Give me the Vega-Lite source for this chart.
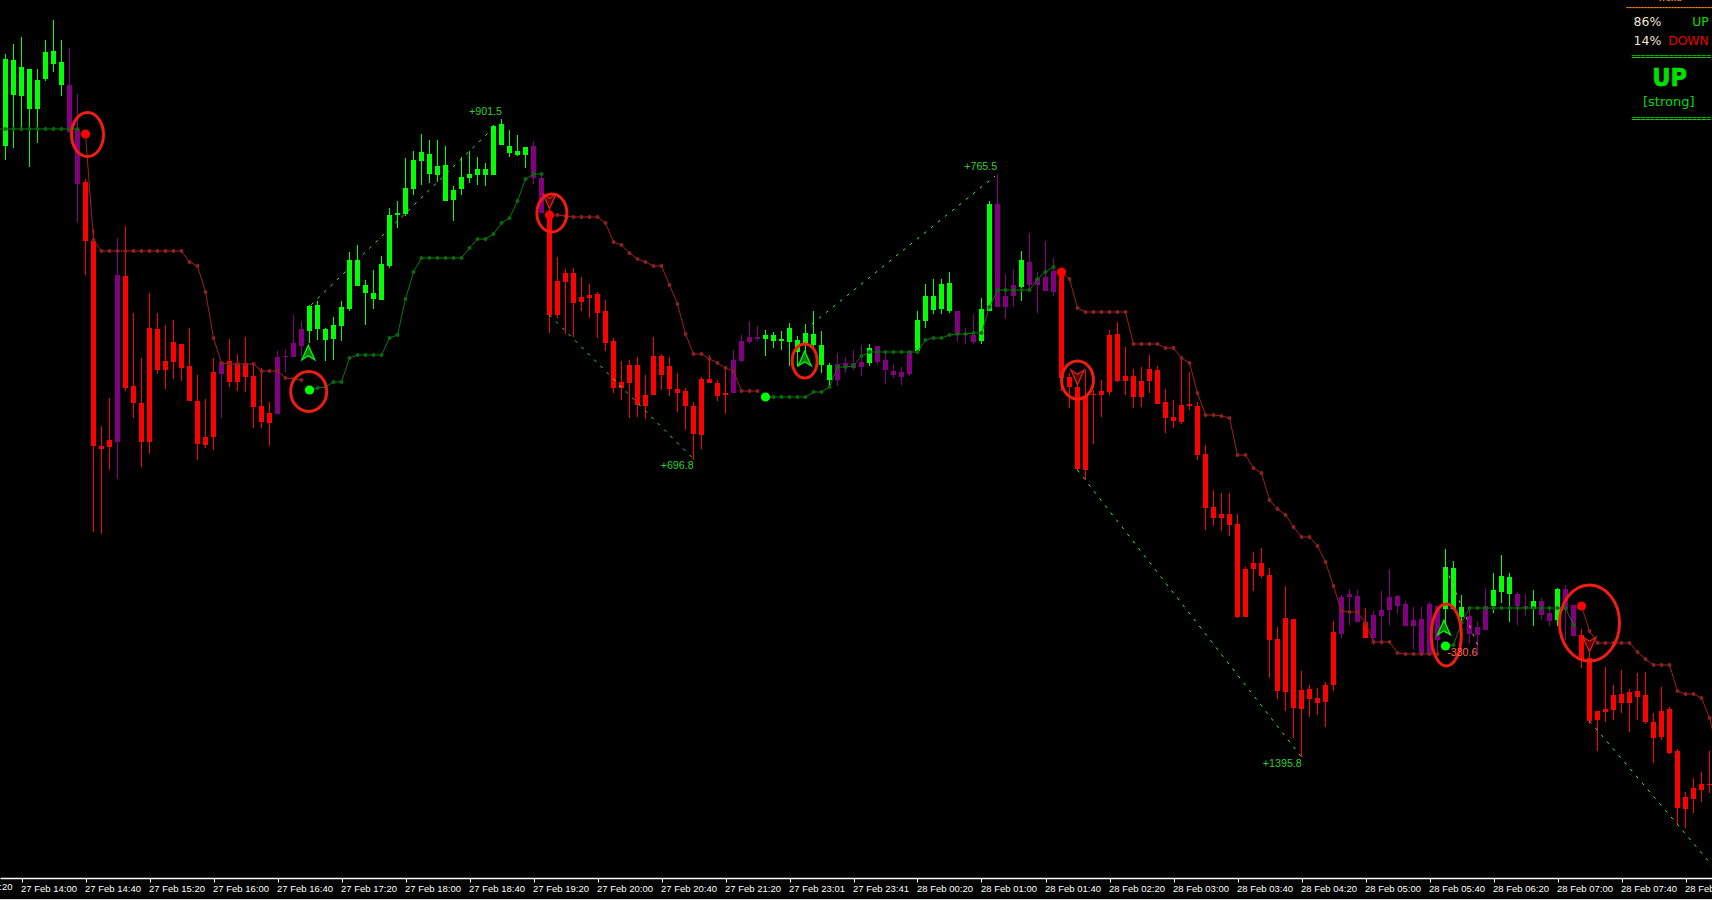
{"$schema":"https://vega.github.io/schema/vega-lite/v6.json","autosize":{"type":"none"},"padding":0,"width":1712,"height":900,"background":"#000000","config":{"view":{"stroke":null},"axis":{"grid":false}},
"datasets":{
"candles":[
{"i":0,"h":946,"l":840,"o":854,"c":941,"s":"up"},{"i":1,"h":956,"l":852,"o":905,"c":940,"s":"up"},{"i":2,"h":963,"l":869,"o":904,"c":933,"s":"up"},{"i":3,"h":931,"l":833,"o":891,"c":931,"s":"up"},{"i":4,"h":931,"l":857,"o":891,"c":920,"s":"up"},{"i":5,"h":960,"l":919,"o":921,"c":948,"s":"up"},{"i":6,"h":980,"l":928,"o":936,"c":949,"s":"up"},{"i":7,"h":960,"l":904,"o":915,"c":938,"s":"up"},{"i":8,"h":952,"l":867,"o":915,"c":868,"s":"flat"},{"i":9,"h":906,"l":777,"o":871,"c":816,"s":"flat"},
{"i":10,"h":821,"l":725,"o":818,"c":759,"s":"down"},{"i":11,"h":771,"l":468,"o":759,"c":554,"s":"down"},{"i":12,"h":574,"l":466,"o":554,"c":551,"s":"down"},{"i":13,"h":602,"l":530,"o":560,"c":553,"s":"down"},{"i":14,"h":762,"l":521,"o":725,"c":558,"s":"flat"},{"i":15,"h":774,"l":609,"o":724,"c":612,"s":"down"},{"i":16,"h":687,"l":582,"o":614,"c":597,"s":"down"},{"i":17,"h":642,"l":533,"o":597,"c":558,"s":"down"},{"i":18,"h":707,"l":546,"o":672,"c":558,"s":"down"},{"i":19,"h":687,"l":626,"o":671,"c":630,"s":"down"},
{"i":20,"h":675,"l":611,"o":639,"c":630,"s":"down"},{"i":21,"h":680,"l":621,"o":658,"c":638,"s":"down"},{"i":22,"h":656,"l":619,"o":656,"c":632,"s":"down"},{"i":23,"h":672,"l":599,"o":634,"c":599,"s":"down"},{"i":24,"h":625,"l":540,"o":599,"c":556,"s":"down"},{"i":25,"h":601,"l":552,"o":563,"c":555,"s":"down"},{"i":26,"h":642,"l":550,"o":628,"c":563,"s":"down"},{"i":27,"h":639,"l":582,"o":638,"c":626,"s":"flat"},{"i":28,"h":661,"l":613,"o":639,"c":618,"s":"down"},{"i":29,"h":646,"l":609,"o":637,"c":618,"s":"down"},
{"i":30,"h":663,"l":608,"o":637,"c":623,"s":"down"},{"i":31,"h":634,"l":572,"o":624,"c":593,"s":"down"},{"i":32,"h":632,"l":572,"o":594,"c":578,"s":"down"},{"i":33,"h":598,"l":554,"o":587,"c":577,"s":"down"},{"i":34,"h":649,"l":586,"o":643,"c":586,"s":"flat"},{"i":35,"h":651,"l":628,"o":644,"c":643,"s":"flat"},{"i":36,"h":685,"l":643,"o":657,"c":643,"s":"flat"},{"i":37,"h":679,"l":643,"o":671,"c":654,"s":"flat"},{"i":38,"h":695,"l":657,"o":669,"c":694,"s":"up"},{"i":39,"h":699,"l":660,"o":671,"c":695,"s":"up"},
{"i":40,"h":672,"l":639,"o":660,"c":671,"s":"up"},{"i":41,"h":683,"l":640,"o":661,"c":675,"s":"up"},{"i":42,"h":699,"l":659,"o":674,"c":693,"s":"up"},{"i":43,"h":748,"l":689,"o":691,"c":740,"s":"up"},{"i":44,"h":755,"l":714,"o":714,"c":740,"s":"up"},{"i":45,"h":720,"l":675,"o":707,"c":715,"s":"up"},{"i":46,"h":730,"l":691,"o":701,"c":707,"s":"up"},{"i":47,"h":744,"l":700,"o":700,"c":736,"s":"up"},{"i":48,"h":792,"l":732,"o":734,"c":785,"s":"up"},{"i":49,"h":799,"l":772,"o":785,"c":787,"s":"up"},
{"i":50,"h":842,"l":784,"o":786,"c":812,"s":"up"},{"i":51,"h":849,"l":805,"o":811,"c":840,"s":"up"},{"i":52,"h":866,"l":815,"o":839,"c":848,"s":"up"},{"i":53,"h":860,"l":817,"o":826,"c":846,"s":"up"},{"i":54,"h":860,"l":818,"o":825,"c":834,"s":"up"},{"i":55,"h":854,"l":799,"o":799,"c":835,"s":"up"},{"i":56,"h":814,"l":779,"o":800,"c":810,"s":"up"},{"i":57,"h":843,"l":805,"o":811,"c":823,"s":"up"},{"i":58,"h":849,"l":817,"o":822,"c":826,"s":"up"},{"i":59,"h":843,"l":815,"o":825,"c":831,"s":"up"},
{"i":60,"h":837,"l":814,"o":825,"c":831,"s":"up"},{"i":61,"h":875,"l":825,"o":825,"c":874,"s":"up"},{"i":62,"h":881,"l":855,"o":855,"c":876,"s":"up"},{"i":63,"h":870,"l":843,"o":847,"c":854,"s":"up"},{"i":64,"h":865,"l":844,"o":845,"c":849,"s":"up"},{"i":65,"h":853,"l":832,"o":845,"c":853,"s":"up"},{"i":66,"h":859,"l":816,"o":854,"c":822,"s":"flat"},{"i":67,"h":827,"l":787,"o":822,"c":787,"s":"flat"},{"i":68,"h":793,"l":667,"o":785,"c":685,"s":"down"},{"i":69,"h":743,"l":682,"o":719,"c":685,"s":"down"},
{"i":70,"h":731,"l":666,"o":727,"c":718,"s":"down"},{"i":71,"h":732,"l":663,"o":727,"c":697,"s":"down"},{"i":72,"h":723,"l":689,"o":703,"c":698,"s":"down"},{"i":73,"h":716,"l":682,"o":705,"c":702,"s":"down"},{"i":74,"h":708,"l":662,"o":706,"c":687,"s":"down"},{"i":75,"h":700,"l":649,"o":689,"c":657,"s":"down"},{"i":76,"h":662,"l":607,"o":659,"c":612,"s":"down"},{"i":77,"h":639,"l":600,"o":618,"c":612,"s":"down"},{"i":78,"h":640,"l":582,"o":635,"c":617,"s":"down"},{"i":79,"h":643,"l":583,"o":635,"c":595,"s":"down"},
{"i":80,"h":625,"l":581,"o":605,"c":594,"s":"down"},{"i":81,"h":663,"l":605,"o":644,"c":605,"s":"down"},{"i":82,"h":646,"l":610,"o":644,"c":625,"s":"down"},{"i":83,"h":643,"l":604,"o":634,"c":611,"s":"down"},{"i":84,"h":627,"l":588,"o":611,"c":607,"s":"down"},{"i":85,"h":612,"l":570,"o":609,"c":594,"s":"down"},{"i":86,"h":598,"l":540,"o":594,"c":566,"s":"down"},{"i":87,"h":623,"l":551,"o":621,"c":565,"s":"down"},{"i":88,"h":645,"l":617,"o":621,"c":617,"s":"down"},{"i":89,"h":620,"l":599,"o":617,"c":604,"s":"down"},
{"i":90,"h":634,"l":586,"o":607,"c":605,"s":"down"},{"i":91,"h":650,"l":607,"o":640,"c":607,"s":"flat"},{"i":92,"h":665,"l":638,"o":659,"c":639,"s":"flat"},{"i":93,"h":679,"l":656,"o":663,"c":658,"s":"flat"},{"i":94,"h":674,"l":659,"o":663,"c":661,"s":"flat"},{"i":95,"h":670,"l":644,"o":661,"c":665,"s":"up"},{"i":96,"h":668,"l":652,"o":659,"c":665,"s":"up"},{"i":97,"h":669,"l":650,"o":659,"c":661,"s":"up"},{"i":98,"h":677,"l":634,"o":658,"c":672,"s":"up"},{"i":99,"h":664,"l":634,"o":648,"c":660,"s":"up"},
{"i":100,"h":676,"l":645,"o":655,"c":667,"s":"up"},{"i":101,"h":689,"l":650,"o":655,"c":666,"s":"up"},{"i":102,"h":669,"l":627,"o":635,"c":655,"s":"up"},{"i":103,"h":637,"l":612,"o":620,"c":635,"s":"up"},{"i":104,"h":647,"l":614,"o":636,"c":620,"s":"flat"},{"i":105,"h":643,"l":627,"o":637,"c":634,"s":"flat"},{"i":106,"h":650,"l":630,"o":637,"c":632,"s":"flat"},{"i":107,"h":655,"l":624,"o":638,"c":633,"s":"flat"},{"i":108,"h":656,"l":634,"o":637,"c":652,"s":"up"},{"i":109,"h":654,"l":635,"o":654,"c":638,"s":"flat"},
{"i":110,"h":646,"l":616,"o":640,"c":630,"s":"flat"},{"i":111,"h":636,"l":622,"o":629,"c":625,"s":"flat"},{"i":112,"h":633,"l":615,"o":628,"c":623,"s":"flat"},{"i":113,"h":649,"l":624,"o":649,"c":626,"s":"flat"},{"i":114,"h":689,"l":647,"o":649,"c":680,"s":"up"},{"i":115,"h":716,"l":672,"o":679,"c":704,"s":"up"},{"i":116,"h":721,"l":686,"o":690,"c":704,"s":"up"},{"i":117,"h":721,"l":686,"o":691,"c":716,"s":"up"},{"i":118,"h":728,"l":687,"o":689,"c":717,"s":"up"},{"i":119,"h":689,"l":659,"o":689,"c":666,"s":"flat"},
{"i":120,"h":672,"l":656,"o":667,"c":665,"s":"flat"},{"i":121,"h":685,"l":656,"o":665,"c":658,"s":"flat"},{"i":122,"h":702,"l":656,"o":659,"c":691,"s":"up"},{"i":123,"h":799,"l":689,"o":689,"c":796,"s":"up"},{"i":124,"h":826,"l":693,"o":796,"c":693,"s":"flat"},{"i":125,"h":726,"l":681,"o":704,"c":693,"s":"flat"},{"i":126,"h":731,"l":693,"o":715,"c":704,"s":"flat"},{"i":127,"h":749,"l":699,"o":713,"c":740,"s":"up"},{"i":128,"h":767,"l":709,"o":738,"c":715,"s":"flat"},{"i":129,"h":728,"l":687,"o":722,"c":715,"s":"flat"},
{"i":130,"h":759,"l":709,"o":723,"c":709,"s":"flat"},{"i":131,"h":742,"l":704,"o":729,"c":708,"s":"flat"},{"i":132,"h":732,"l":609,"o":728,"c":622,"s":"down"},{"i":133,"h":627,"l":592,"o":623,"c":613,"s":"down"},{"i":134,"h":615,"l":529,"o":613,"c":531,"s":"down"},{"i":135,"h":630,"l":520,"o":604,"c":530,"s":"down"},{"i":136,"h":610,"l":556,"o":606,"c":605,"s":"down"},{"i":137,"h":620,"l":583,"o":609,"c":605,"s":"down"},{"i":138,"h":670,"l":605,"o":665,"c":608,"s":"down"},{"i":139,"h":678,"l":618,"o":666,"c":619,"s":"down"},
{"i":140,"h":653,"l":605,"o":624,"c":619,"s":"down"},{"i":141,"h":631,"l":592,"o":624,"c":603,"s":"down"},{"i":142,"h":633,"l":593,"o":619,"c":603,"s":"down"},{"i":143,"h":645,"l":607,"o":631,"c":619,"s":"down"},{"i":144,"h":634,"l":596,"o":630,"c":596,"s":"down"},{"i":145,"h":611,"l":567,"o":598,"c":582,"s":"down"},{"i":146,"h":600,"l":572,"o":583,"c":579,"s":"down"},{"i":147,"h":642,"l":576,"o":595,"c":578,"s":"down"},{"i":148,"h":628,"l":590,"o":596,"c":594,"s":"down"},{"i":149,"h":598,"l":540,"o":594,"c":545,"s":"down"},
{"i":150,"h":555,"l":470,"o":546,"c":492,"s":"down"},{"i":151,"h":510,"l":474,"o":493,"c":482,"s":"down"},{"i":152,"h":507,"l":469,"o":486,"c":482,"s":"down"},{"i":153,"h":507,"l":464,"o":486,"c":475,"s":"down"},{"i":154,"h":486,"l":382,"o":476,"c":383,"s":"down"},{"i":155,"h":433,"l":383,"o":431,"c":383,"s":"down"},{"i":156,"h":448,"l":409,"o":437,"c":431,"s":"down"},{"i":157,"h":452,"l":422,"o":437,"c":424,"s":"down"},{"i":158,"h":432,"l":322,"o":425,"c":360,"s":"down"},{"i":159,"h":373,"l":301,"o":361,"c":309,"s":"down"},
{"i":160,"h":414,"l":289,"o":382,"c":308,"s":"down"},{"i":161,"h":381,"l":262,"o":381,"c":292,"s":"down"},{"i":162,"h":329,"l":243,"o":310,"c":291,"s":"down"},{"i":163,"h":315,"l":283,"o":311,"c":301,"s":"down"},{"i":164,"h":312,"l":285,"o":302,"c":297,"s":"down"},{"i":165,"h":318,"l":273,"o":315,"c":298,"s":"down"},{"i":166,"h":379,"l":309,"o":368,"c":315,"s":"down"},{"i":167,"h":405,"l":362,"o":403,"c":366,"s":"flat"},{"i":168,"h":411,"l":375,"o":406,"c":403,"s":"flat"},{"i":169,"h":410,"l":378,"o":404,"c":378,"s":"flat"},
{"i":170,"h":392,"l":362,"o":378,"c":362,"s":"down"},{"i":171,"h":389,"l":355,"o":385,"c":362,"s":"flat"},{"i":172,"h":409,"l":355,"o":390,"c":384,"s":"flat"},{"i":173,"h":431,"l":375,"o":403,"c":390,"s":"flat"},{"i":174,"h":405,"l":386,"o":404,"c":394,"s":"flat"},{"i":175,"h":399,"l":374,"o":396,"c":374,"s":"flat"},{"i":176,"h":393,"l":350,"o":380,"c":374,"s":"flat"},{"i":177,"h":393,"l":344,"o":381,"c":346,"s":"flat"},{"i":178,"h":398,"l":344,"o":396,"c":346,"s":"flat"},{"i":179,"h":394,"l":345,"o":394,"c":360,"s":"flat"},
{"i":180,"h":451,"l":367,"o":391,"c":433,"s":"up"},{"i":181,"h":439,"l":390,"o":391,"c":432,"s":"up"},{"i":182,"h":405,"l":370,"o":383,"c":393,"s":"up"},{"i":183,"h":393,"l":356,"o":384,"c":366,"s":"flat"},{"i":184,"h":379,"l":345,"o":373,"c":365,"s":"flat"},{"i":185,"h":412,"l":370,"o":394,"c":370,"s":"flat"},{"i":186,"h":427,"l":387,"o":394,"c":410,"s":"up"},{"i":187,"h":445,"l":397,"o":408,"c":424,"s":"up"},{"i":188,"h":427,"l":378,"o":406,"c":423,"s":"up"},{"i":189,"h":408,"l":375,"o":406,"c":394,"s":"flat"},
{"i":190,"h":406,"l":384,"o":394,"c":392,"s":"flat"},{"i":191,"h":410,"l":374,"o":391,"c":399,"s":"up"},{"i":192,"h":402,"l":380,"o":399,"c":385,"s":"flat"},{"i":193,"h":394,"l":374,"o":387,"c":379,"s":"flat"},{"i":194,"h":412,"l":374,"o":380,"c":411,"s":"up"},{"i":195,"h":415,"l":360,"o":411,"c":390,"s":"flat"},{"i":196,"h":395,"l":364,"o":395,"c":364,"s":"flat"},{"i":197,"h":371,"l":332,"o":365,"c":340,"s":"down"},{"i":198,"h":347,"l":276,"o":342,"c":279,"s":"down"},{"i":199,"h":289,"l":249,"o":289,"c":280,"s":"down"},
{"i":200,"h":333,"l":278,"o":291,"c":288,"s":"down"},{"i":201,"h":315,"l":280,"o":305,"c":290,"s":"down"},{"i":202,"h":330,"l":287,"o":306,"c":297,"s":"down"},{"i":203,"h":311,"l":268,"o":308,"c":297,"s":"down"},{"i":204,"h":327,"l":280,"o":309,"c":303,"s":"down"},{"i":205,"h":328,"l":276,"o":305,"c":278,"s":"down"},{"i":206,"h":287,"l":237,"o":278,"c":262,"s":"down"},{"i":207,"h":313,"l":260,"o":289,"c":263,"s":"down"},{"i":208,"h":293,"l":246,"o":291,"c":247,"s":"down"},{"i":209,"h":251,"l":176,"o":249,"c":192,"s":"down"},
{"i":210,"h":208,"l":172,"o":203,"c":191,"s":"down"},{"i":211,"h":222,"l":187,"o":212,"c":201,"s":"down"},{"i":212,"h":228,"l":198,"o":216,"c":210,"s":"down"},{"i":213,"h":249,"l":207,"o":216,"c":215,"s":"down"}],
"stops":[
{"i":-1,"v":871,"g":"a","d":"long"},{"i":0,"v":871,"g":"a","d":"long"},{"i":1,"v":871,"g":"a","d":"long"},{"i":2,"v":871,"g":"a","d":"long"},{"i":3,"v":871,"g":"a","d":"long"},{"i":4,"v":871,"g":"a","d":"long"},{"i":5,"v":871,"g":"a","d":"long"},{"i":6,"v":871,"g":"a","d":"long"},{"i":7,"v":871,"g":"a","d":"long"},{"i":8,"v":871,"g":"a","d":"long"},{"i":9,"v":871,"g":"a","d":"long"},
{"i":10,"v":866,"g":"b","d":"short"},{"i":11,"v":760,"g":"b","d":"short"},{"i":12,"v":749,"g":"b","d":"short"},{"i":13,"v":749,"g":"b","d":"short"},{"i":14,"v":749,"g":"b","d":"short"},{"i":15,"v":749,"g":"b","d":"short"},{"i":16,"v":749,"g":"b","d":"short"},{"i":17,"v":749,"g":"b","d":"short"},{"i":18,"v":749,"g":"b","d":"short"},{"i":19,"v":749,"g":"b","d":"short"},{"i":20,"v":749,"g":"b","d":"short"},{"i":21,"v":749,"g":"b","d":"short"},{"i":22,"v":749,"g":"b","d":"short"},{"i":23,"v":738,"g":"b","d":"short"},{"i":24,"v":734,"g":"b","d":"short"},{"i":25,"v":708,"g":"b","d":"short"},{"i":26,"v":662,"g":"b","d":"short"},{"i":27,"v":637,"g":"b","d":"short"},{"i":28,"v":636,"g":"b","d":"short"},{"i":29,"v":636,"g":"b","d":"short"},{"i":30,"v":636,"g":"b","d":"short"},{"i":31,"v":636,"g":"b","d":"short"},{"i":32,"v":629,"g":"b","d":"short"},{"i":33,"v":629,"g":"b","d":"short"},{"i":34,"v":629,"g":"b","d":"short"},{"i":35,"v":622,"g":"b","d":"short"},{"i":36,"v":621,"g":"b","d":"short"},{"i":37,"v":620,"g":"b","d":"short"},
{"i":38,"v":610,"g":"c","d":"long"},{"i":39,"v":612,"g":"c","d":"long"},{"i":40,"v":613,"g":"c","d":"long"},{"i":41,"v":618,"g":"c","d":"long"},{"i":42,"v":618,"g":"c","d":"long"},{"i":43,"v":642,"g":"c","d":"long"},{"i":44,"v":645,"g":"c","d":"long"},{"i":45,"v":645,"g":"c","d":"long"},{"i":46,"v":645,"g":"c","d":"long"},{"i":47,"v":645,"g":"c","d":"long"},{"i":48,"v":662,"g":"c","d":"long"},{"i":49,"v":665,"g":"c","d":"long"},{"i":50,"v":701,"g":"c","d":"long"},{"i":51,"v":728,"g":"c","d":"long"},{"i":52,"v":742,"g":"c","d":"long"},{"i":53,"v":742,"g":"c","d":"long"},{"i":54,"v":742,"g":"c","d":"long"},{"i":55,"v":742,"g":"c","d":"long"},{"i":56,"v":742,"g":"c","d":"long"},{"i":57,"v":742,"g":"c","d":"long"},{"i":58,"v":752,"g":"c","d":"long"},{"i":59,"v":761,"g":"c","d":"long"},{"i":60,"v":761,"g":"c","d":"long"},{"i":61,"v":766,"g":"c","d":"long"},{"i":62,"v":777,"g":"c","d":"long"},{"i":63,"v":782,"g":"c","d":"long"},{"i":64,"v":799,"g":"c","d":"long"},{"i":65,"v":821,"g":"c","d":"long"},{"i":66,"v":826,"g":"c","d":"long"},{"i":67,"v":826,"g":"c","d":"long"},
{"i":68,"v":785,"g":"d","d":"short"},{"i":69,"v":785,"g":"d","d":"short"},{"i":70,"v":784,"g":"d","d":"short"},{"i":71,"v":783,"g":"d","d":"short"},{"i":72,"v":783,"g":"d","d":"short"},{"i":73,"v":783,"g":"d","d":"short"},{"i":74,"v":783,"g":"d","d":"short"},{"i":75,"v":777,"g":"d","d":"short"},{"i":76,"v":758,"g":"d","d":"short"},{"i":77,"v":755,"g":"d","d":"short"},{"i":78,"v":747,"g":"d","d":"short"},{"i":79,"v":741,"g":"d","d":"short"},{"i":80,"v":738,"g":"d","d":"short"},{"i":81,"v":734,"g":"d","d":"short"},{"i":82,"v":734,"g":"d","d":"short"},{"i":83,"v":715,"g":"d","d":"short"},{"i":84,"v":696,"g":"d","d":"short"},{"i":85,"v":666,"g":"d","d":"short"},{"i":86,"v":646,"g":"d","d":"short"},{"i":87,"v":646,"g":"d","d":"short"},{"i":88,"v":641,"g":"d","d":"short"},{"i":89,"v":637,"g":"d","d":"short"},{"i":90,"v":632,"g":"d","d":"short"},{"i":91,"v":629,"g":"d","d":"short"},{"i":92,"v":609,"g":"d","d":"short"},{"i":93,"v":609,"g":"d","d":"short"},{"i":94,"v":609,"g":"d","d":"short"},
{"i":95,"v":603,"g":"e","d":"long"},{"i":96,"v":603,"g":"e","d":"long"},{"i":97,"v":603,"g":"e","d":"long"},{"i":98,"v":603,"g":"e","d":"long"},{"i":99,"v":603,"g":"e","d":"long"},{"i":100,"v":603,"g":"e","d":"long"},{"i":101,"v":608,"g":"e","d":"long"},{"i":102,"v":608,"g":"e","d":"long"},{"i":103,"v":613,"g":"e","d":"long"},{"i":104,"v":633,"g":"e","d":"long"},{"i":105,"v":633,"g":"e","d":"long"},{"i":106,"v":634,"g":"e","d":"long"},{"i":107,"v":644,"g":"e","d":"long"},{"i":108,"v":648,"g":"e","d":"long"},{"i":109,"v":648,"g":"e","d":"long"},{"i":110,"v":648,"g":"e","d":"long"},{"i":111,"v":648,"g":"e","d":"long"},{"i":112,"v":648,"g":"e","d":"long"},{"i":113,"v":648,"g":"e","d":"long"},{"i":114,"v":648,"g":"e","d":"long"},{"i":115,"v":660,"g":"e","d":"long"},{"i":116,"v":662,"g":"e","d":"long"},{"i":117,"v":662,"g":"e","d":"long"},{"i":118,"v":665,"g":"e","d":"long"},{"i":119,"v":666,"g":"e","d":"long"},{"i":120,"v":666,"g":"e","d":"long"},{"i":121,"v":667,"g":"e","d":"long"},{"i":122,"v":667,"g":"e","d":"long"},{"i":123,"v":693,"g":"e","d":"long"},{"i":124,"v":710,"g":"e","d":"long"},{"i":125,"v":710,"g":"e","d":"long"},{"i":126,"v":710,"g":"e","d":"long"},{"i":127,"v":710,"g":"e","d":"long"},{"i":128,"v":710,"g":"e","d":"long"},{"i":129,"v":721,"g":"e","d":"long"},{"i":130,"v":728,"g":"e","d":"long"},{"i":131,"v":733,"g":"e","d":"long"},
{"i":132,"v":728,"g":"f","d":"short"},{"i":133,"v":721,"g":"f","d":"short"},{"i":134,"v":692,"g":"f","d":"short"},{"i":135,"v":688,"g":"f","d":"short"},{"i":136,"v":688,"g":"f","d":"short"},{"i":137,"v":688,"g":"f","d":"short"},{"i":138,"v":688,"g":"f","d":"short"},{"i":139,"v":688,"g":"f","d":"short"},{"i":140,"v":688,"g":"f","d":"short"},{"i":141,"v":656,"g":"f","d":"short"},{"i":142,"v":656,"g":"f","d":"short"},{"i":143,"v":656,"g":"f","d":"short"},{"i":144,"v":656,"g":"f","d":"short"},{"i":145,"v":652,"g":"f","d":"short"},{"i":146,"v":652,"g":"f","d":"short"},{"i":147,"v":642,"g":"f","d":"short"},{"i":148,"v":637,"g":"f","d":"short"},{"i":149,"v":607,"g":"f","d":"short"},{"i":150,"v":585,"g":"f","d":"short"},{"i":151,"v":585,"g":"f","d":"short"},{"i":152,"v":584,"g":"f","d":"short"},{"i":153,"v":582,"g":"f","d":"short"},{"i":154,"v":545,"g":"f","d":"short"},{"i":155,"v":545,"g":"f","d":"short"},{"i":156,"v":532,"g":"f","d":"short"},{"i":157,"v":527,"g":"f","d":"short"},{"i":158,"v":500,"g":"f","d":"short"},{"i":159,"v":491,"g":"f","d":"short"},{"i":160,"v":485,"g":"f","d":"short"},{"i":161,"v":473,"g":"f","d":"short"},{"i":162,"v":463,"g":"f","d":"short"},{"i":163,"v":463,"g":"f","d":"short"},{"i":164,"v":454,"g":"f","d":"short"},{"i":165,"v":438,"g":"f","d":"short"},{"i":166,"v":414,"g":"f","d":"short"},{"i":167,"v":389,"g":"f","d":"short"},{"i":168,"v":388,"g":"f","d":"short"},{"i":169,"v":388,"g":"f","d":"short"},{"i":170,"v":377,"g":"f","d":"short"},{"i":171,"v":358,"g":"f","d":"short"},{"i":172,"v":358,"g":"f","d":"short"},{"i":173,"v":358,"g":"f","d":"short"},{"i":174,"v":347,"g":"f","d":"short"},{"i":175,"v":346,"g":"f","d":"short"},{"i":176,"v":346,"g":"f","d":"short"},{"i":177,"v":346,"g":"f","d":"short"},{"i":178,"v":346,"g":"f","d":"short"},{"i":179,"v":346,"g":"f","d":"short"},
{"i":180,"v":354,"g":"h","d":"long"},{"i":181,"v":355,"g":"h","d":"long"},{"i":182,"v":377,"g":"h","d":"long"},{"i":183,"v":392,"g":"h","d":"long"},{"i":184,"v":392,"g":"h","d":"long"},{"i":185,"v":392,"g":"h","d":"long"},{"i":186,"v":392,"g":"h","d":"long"},{"i":187,"v":392,"g":"h","d":"long"},{"i":188,"v":392,"g":"h","d":"long"},{"i":189,"v":392,"g":"h","d":"long"},{"i":190,"v":392,"g":"h","d":"long"},{"i":191,"v":392,"g":"h","d":"long"},{"i":192,"v":392,"g":"h","d":"long"},{"i":193,"v":392,"g":"h","d":"long"},{"i":194,"v":392,"g":"h","d":"long"},{"i":195,"v":392,"g":"h","d":"long"},{"i":196,"v":375,"g":"h","d":"long"},
{"i":197,"v":394,"g":"j","d":"short"},{"i":198,"v":369,"g":"j","d":"short"},{"i":199,"v":357,"g":"j","d":"short"},{"i":200,"v":357,"g":"j","d":"short"},{"i":201,"v":357,"g":"j","d":"short"},{"i":202,"v":357,"g":"j","d":"short"},{"i":203,"v":357,"g":"j","d":"short"},{"i":204,"v":348,"g":"j","d":"short"},{"i":205,"v":341,"g":"j","d":"short"},{"i":206,"v":335,"g":"j","d":"short"},{"i":207,"v":335,"g":"j","d":"short"},{"i":208,"v":335,"g":"j","d":"short"},{"i":209,"v":309,"g":"j","d":"short"},{"i":210,"v":306,"g":"j","d":"short"},{"i":211,"v":306,"g":"j","d":"short"},{"i":212,"v":302,"g":"j","d":"short"},{"i":213,"v":282,"g":"j","d":"short"},{"i":214,"v":250,"g":"j","d":"short"}],
"entries":[{"i":10,"v":866,"d":"short"},{"i":38,"v":610,"d":"long"},{"i":68,"v":785,"d":"short"},{"i":95,"v":603,"d":"long"},{"i":132,"v":728,"d":"short"},{"i":180,"v":354,"d":"long"},{"i":197,"v":394,"d":"short"}],
"trades":[{"t":"1","r":"win","i":38.2,"v":695},{"t":"1","r":"win","i":61.6,"v":877},{"t":"2","r":"win","i":68,"v":685},{"t":"2","r":"win","i":86,"v":541},{"t":"3","r":"win","i":100.8,"v":676},{"t":"3","r":"win","i":123.7,"v":824},{"t":"4","r":"win","i":134,"v":530},{"t":"4","r":"win","i":162,"v":243},{"t":"5","r":"loss","i":180,"v":433},{"t":"5","r":"loss","i":184,"v":355},{"t":"6","r":"win","i":198,"v":279},{"t":"6","r":"win","i":213.4,"v":134}],
"profits":[{"i":60,"v":888,"txt":"+901.5","r":"win"},{"i":83.96,"v":534,"txt":"+696.8","r":"win"},{"i":121.9,"v":833,"txt":"+765.5","r":"win"},{"i":159.6,"v":236,"txt":"+1395.8","r":"win"},{"i":182.1,"v":347,"txt":"-330.6","r":"loss"}]
},
"resolve":{"scale":{"fill":"independent","stroke":"independent"}},
"encoding":{"x":{"field":"i","type":"quantitative","scale":{"domain":[-0.6875,213.3125],"nice":false,"zero":false,"padding":0},"title":null,"axis":{"orient":"bottom","offset":-22,"values":[2,10,18,26,34,42,50,58,66,74,82,90,98,106,114,122,130,138,146,154,162,170,178,186,194,202,210],"labelExpr":"['27 Feb 14:00','27 Feb 14:40','27 Feb 15:20','27 Feb 16:00','27 Feb 16:40','27 Feb 17:20','27 Feb 18:00','27 Feb 18:40','27 Feb 19:20','27 Feb 20:00','27 Feb 20:40','27 Feb 21:20','27 Feb 23:01','27 Feb 23:41','28 Feb 00:20','28 Feb 01:00','28 Feb 01:40','28 Feb 02:20','28 Feb 03:00','28 Feb 03:40','28 Feb 04:20','28 Feb 05:00','28 Feb 05:40','28 Feb 06:20','28 Feb 07:00','28 Feb 07:40','28 Feb 08:20'][(datum.value-2)/8]","labelAlign":"left","labelBaseline":"middle","labelPadding":6,"labelOffset":-1,"labelFont":"Liberation Sans","labelFontSize":9.5,"labelColor":"#ffffff","labelOverlap":false,"labelBound":false,"labelFlush":false,"domainColor":"#ffffff","domainWidth":1.5,"tickColor":"#ffffff","tickSize":4,"tickWidth":1,"grid":false}}},
"layer":[
{"data":{"name":"candles"},"mark":{"type":"rule","strokeWidth":1},"encoding":{"y":{"field":"h","type":"quantitative","scale":{"domain":[100,1000],"nice":false,"zero":false},"axis":null},"y2":{"field":"l"},"color":{"field":"s","type":"nominal","scale":{"domain":["up","down","flat"],"range":["#00ff00","#ff0000","#800080"]},"legend":null}}},
{"data":{"name":"candles"},"mark":{"type":"bar","size":5,"orient":"vertical"},"encoding":{"y":{"field":"o","type":"quantitative","axis":null},"y2":{"field":"c"},"color":{"field":"s","type":"nominal","legend":null}}},
{"data":{"name":"stops"},"mark":{"type":"line","strokeWidth":1,"clip":true},"encoding":{"y":{"field":"v","type":"quantitative","axis":null},"detail":{"field":"g"},"stroke":{"field":"d","type":"nominal","scale":{"domain":["long","short"],"range":["#0a7a0a","#a02020"]},"legend":null}}},
{"data":{"name":"stops"},"mark":{"type":"point","filled":true,"size":16,"opacity":1,"clip":true},"encoding":{"y":{"field":"v","type":"quantitative","axis":null},"fill":{"field":"d","type":"nominal","scale":{"domain":["long","short"],"range":["#0a6a0a","#8a2222"]},"legend":null}}},
{"data":{"name":"trades"},"mark":{"type":"line","strokeWidth":1,"strokeDash":[3,6],"clip":true},"encoding":{"y":{"field":"v","type":"quantitative","axis":null},"detail":{"field":"t"},"stroke":{"field":"r","type":"nominal","scale":{"domain":["win","loss"],"range":["#44ee44","#ff8866"]},"legend":null}}},
{"data":{"name":"entries"},"mark":{"type":"point","filled":true,"size":85,"opacity":1},"encoding":{"y":{"field":"v","type":"quantitative","axis":null},"fill":{"field":"d","type":"nominal","scale":{"domain":["long","short"],"range":["#00ff00","#ff0000"]},"legend":null}}},
{"data":{"values":[{"i":37.85,"v":647},{"i":99.9,"v":641},{"i":179.8,"v":372}]},"mark":{"type":"point","shape":"M0,-1 L0.85,0.9 L0,0.35 L-0.85,0.9 Z","filled":true,"size":240,"fill":"#0a7a0a","stroke":"#00ff00","strokeWidth":1.2,"opacity":1},"encoding":{"y":{"field":"v","type":"quantitative","axis":null}}},
{"data":{"values":[{"i":68,"v":799},{"i":134,"v":623},{"i":198,"v":356}]},"mark":{"type":"point","shape":"M0,1 L0.85,-0.9 L0,-0.35 L-0.85,-0.9 Z","filled":true,"size":240,"fill":"#5a0505","stroke":"#e02020","strokeWidth":1.2,"opacity":1},"encoding":{"y":{"field":"v","type":"quantitative","axis":null}}},
{"data":{"values":[{"i":10.25,"v":865.4}]},"mark":{"type":"point","shape":"M-0.727,0 A0.727,1 0 1,1 0.727,0 A0.727,1 0 1,1 -0.727,0 Z","filled":false,"size":1936,"stroke":"#f01e10","strokeWidth":3,"opacity":1},"encoding":{"y":{"field":"v","type":"quantitative","axis":null}}},
{"data":{"values":[{"i":37.9,"v":608.6}]},"mark":{"type":"point","shape":"M-0.9,0 A0.9,1 0 1,1 0.9,0 A0.9,1 0 1,1 -0.9,0 Z","filled":false,"size":1600,"stroke":"#f01e10","strokeWidth":3,"opacity":1},"encoding":{"y":{"field":"v","type":"quantitative","axis":null}}},
{"data":{"values":[{"i":68.3,"v":787}]},"mark":{"type":"point","shape":"M-0.79,0 A0.79,1 0 1,1 0.79,0 A0.79,1 0 1,1 -0.79,0 Z","filled":false,"size":1444,"stroke":"#f01e10","strokeWidth":3,"opacity":1},"encoding":{"y":{"field":"v","type":"quantitative","axis":null}}},
{"data":{"values":[{"i":99.9,"v":639}]},"mark":{"type":"point","shape":"M-0.735,0 A0.735,1 0 1,1 0.735,0 A0.735,1 0 1,1 -0.735,0 Z","filled":false,"size":1156,"stroke":"#f01e10","strokeWidth":3,"opacity":1},"encoding":{"y":{"field":"v","type":"quantitative","axis":null}}},
{"data":{"values":[{"i":134,"v":620}]},"mark":{"type":"point","shape":"M-0.84,0 A0.84,1 0 1,1 0.84,0 A0.84,1 0 1,1 -0.84,0 Z","filled":false,"size":1444,"stroke":"#f01e10","strokeWidth":3,"opacity":1},"encoding":{"y":{"field":"v","type":"quantitative","axis":null}}},
{"data":{"values":[{"i":180.1,"v":365}]},"mark":{"type":"point","shape":"M-0.484,0 A0.484,1 0 1,1 0.484,0 A0.484,1 0 1,1 -0.484,0 Z","filled":false,"size":3844,"stroke":"#f01e10","strokeWidth":3,"opacity":1},"encoding":{"y":{"field":"v","type":"quantitative","axis":null}}},
{"data":{"values":[{"i":198,"v":377}]},"mark":{"type":"point","shape":"M-0.79,0 A0.79,1 0 1,1 0.79,0 A0.79,1 0 1,1 -0.79,0 Z","filled":false,"size":5776,"stroke":"#f01e10","strokeWidth":3,"opacity":1},"encoding":{"y":{"field":"v","type":"quantitative","axis":null}}},
{"data":{"name":"profits"},"mark":{"type":"text","font":"Liberation Sans","fontSize":10.7,"align":"center","baseline":"middle"},"encoding":{"y":{"field":"v","type":"quantitative","axis":null},"text":{"field":"txt"},"fill":{"field":"r","type":"nominal","scale":{"domain":["win","loss"],"range":["#33cc33","#ff6a4d"]},"legend":null}}},
{"data":{"values":[{"i":203.5,"v":978,"txt":"86%"},{"i":203.5,"v":959,"txt":"14%"}]},"mark":{"type":"text","font":"DejaVu Sans","fontSize":12.5,"align":"left","baseline":"middle","fill":"#f0e4d0"},"encoding":{"y":{"field":"v","type":"quantitative","axis":null},"text":{"field":"txt"}}},
{"data":{"values":[{"i":212.9,"v":978,"txt":"UP"}]},"mark":{"type":"text","font":"DejaVu Sans","fontSize":12.3,"align":"right","baseline":"middle","fill":"#00e000"},"encoding":{"y":{"field":"v","type":"quantitative","axis":null},"text":{"field":"txt"}}},
{"data":{"values":[{"i":212.9,"v":959,"txt":"DOWN"}]},"mark":{"type":"text","font":"DejaVu Sans","fontSize":12.3,"align":"right","baseline":"middle","fill":"#e80000"},"encoding":{"y":{"field":"v","type":"quantitative","axis":null},"text":{"field":"txt"}}},
{"data":{"values":[{"i":208.2,"v":943,"txt":"================="},{"i":208.2,"v":881.5,"txt":"================="}]},"mark":{"type":"text","font":"Liberation Sans","fontSize":8,"fontWeight":"bold","align":"center","baseline":"middle","fill":"#00dd00"},"encoding":{"y":{"field":"v","type":"quantitative","axis":null},"text":{"field":"txt"}}},
{"data":{"values":[{"i":208,"v":993,"txt":"-----------------------------"},{"i":208,"v":1002,"txt":"Trend"}]},"mark":{"type":"text","font":"Liberation Sans","fontSize":9,"fontWeight":"bold","align":"center","baseline":"middle","fill":"#ff8c00"},"encoding":{"y":{"field":"v","type":"quantitative","axis":null},"text":{"field":"txt"}}},
{"data":{"values":[{"i":208,"v":922,"txt":"UP"}]},"mark":{"type":"text","font":"DejaVu Sans Condensed","fontSize":25,"fontWeight":"bold","align":"center","baseline":"middle","fill":"#00e000","stroke":"#00e000","strokeWidth":0.6},"encoding":{"y":{"field":"v","type":"quantitative","axis":null},"text":{"field":"txt"}}},
{"data":{"values":[{"i":207.9,"v":898,"txt":"[strong]"}]},"mark":{"type":"text","font":"DejaVu Sans","fontSize":13,"align":"center","baseline":"middle","fill":"#00dd00"},"encoding":{"y":{"field":"v","type":"quantitative","axis":null},"text":{"field":"txt"}}},
{"data":{"values":[{"i":-6,"v":113,"txt":"27 Feb 13:20"}]},"mark":{"type":"text","font":"Liberation Sans","fontSize":9.5,"align":"left","baseline":"middle","dx":-1,"fill":"#ffffff"},"encoding":{"y":{"field":"v","type":"quantitative","axis":null},"text":{"field":"txt"}}},
{"data":{"values":[{"i":-0.6875,"j":213.3125,"v":100.5}]},"mark":{"type":"rule","stroke":"#dcdcdc","strokeWidth":1},"encoding":{"x2":{"field":"j"},"y":{"field":"v","type":"quantitative","axis":null}}}
]}
